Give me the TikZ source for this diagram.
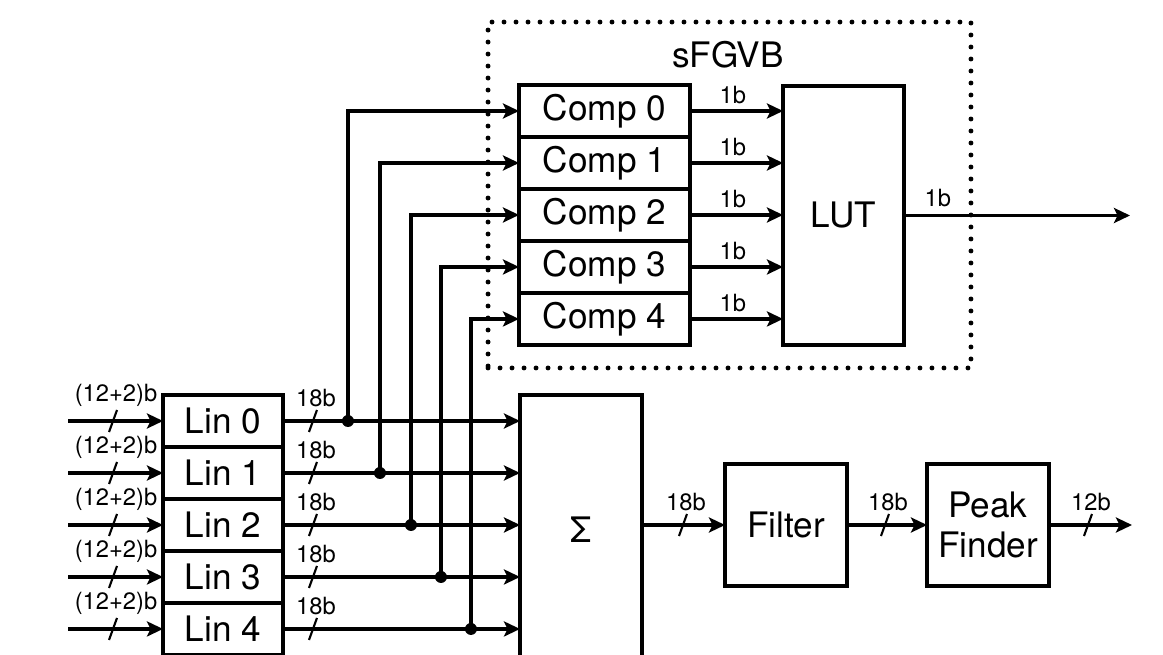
\documentclass[tikz,border=0pt]{standalone}
\usepackage{fontspec}
\setmainfont{TeX Gyre Heros}
\usetikzlibrary{positioning,arrows.meta,decorations.markings}

\tikzset{
  block/.style={draw, line width=2.5pt, inner sep=0pt, outer sep=0pt, font=\fontsize{20}{23}\selectfont},
  wire/.style={line width=2.1pt, -{Stealth[length=0.32cm,width=0.3cm,inset=0.07cm]}},
  lbl/.style={font=\fontsize{13.5}{15}\selectfont, inner sep=1pt},
  bus/.style 2 args={postaction={decorate, decoration={markings,
      mark=at position #1 with {\draw[line width=1.2pt,-] (-0.08cm,-0.22cm) -- (0.08cm,0.22cm);
                                \node[lbl, above=0pt] at (0.06cm,0.22cm) {#2};}}}},
  tap/.style={circle, fill, inner sep=0pt, minimum size=0.24cm},
  dotbox/.style={draw, line width=2.8pt, line cap=round, dash pattern=on 0pt off 0.24cm,
                 minimum width=9.66cm, minimum height=6.92cm},
}

\begin{document}
\begin{tikzpicture}[x=0.02cm, y=-0.02cm]
  \useasboundingbox (0,0) rectangle (1163,655);

  % sFGVB frame
  \node[dotbox] (frame) at (729.5,195) {};
  \node[font=\fontsize{20}{23}\selectfont] (title) at (728,55) {sFGVB};

  % linearisers, stacked
  \node[block, minimum width=2.4cm, minimum height=1.04cm, anchor=north] (lin0) at (223,395) {Lin 0};
  \foreach \i [count=\j from 0] in {1,...,4}
    \node[block, minimum width=2.4cm, minimum height=1.04cm, below=0pt of lin\j] (lin\i) {Lin \i};

  % comparators, stacked
  \node[block, minimum width=3.42cm, minimum height=1.04cm, anchor=north] (comp0) at (604.5,85) {Comp 0};
  \foreach \i [count=\j from 0] in {1,...,4}
    \node[block, minimum width=3.42cm, minimum height=1.04cm, below=0pt of comp\j] (comp\i) {Comp \i};

  \node[block, minimum width=2.42cm, minimum height=5.18cm] (lut) at (843.5,215.5) {LUT};
  \node[block, minimum width=2.44cm, minimum height=5.4cm, anchor=north] (sum) at (581,395) {Σ};
  \node[block, minimum width=2.44cm, minimum height=2.44cm] (filter) at (786,525) {Filter};
  \node[block, minimum width=2.44cm, minimum height=2.44cm, align=center] (peak) at (988,525) {Peak\\Finder};

  \coordinate (lutout) at (1130,215.5);
  \coordinate (peakout) at (1132,525);

  % inputs and sum lines
  \foreach \i in {0,...,4}{
    \coordinate (in\i) at ([xshift=-1.9cm]lin\i.west);
    \draw[wire, bus={0.9cm}{(12+2)b}] (in\i) -- (lin\i.west);
    \draw[wire, bus={0.6cm}{18b}] (lin\i.east) -- (lin\i.east -| sum.west);
  }

  % taps to comparators
  \foreach \i/\d in {0/1.3,1/1.94,2/2.56,3/3.16,4/3.76}{
    \node[tap] (dot\i) at ([xshift=\d cm]lin\i.east) {};
    \draw[wire] (dot\i.center) |- (comp\i.west);
    \draw[wire] (comp\i.east) -- node[lbl, above=2pt, pos=0.46] {1b} (comp\i.east -| lut.west);
  }

  \draw[wire] (lut.east) -- node[lbl, above=3pt, pos=0.15] {1b} (lutout);

  \draw[wire, bus={0.82cm}{18b}] (sum.east |- filter.west) -- (filter.west);
  \draw[wire, bus={0.76cm}{18b}] (filter.east) -- (peak.west);
  \draw[wire, bus={0.78cm}{12b}] (peak.east) -- (peakout);
\end{tikzpicture}
\end{document}
